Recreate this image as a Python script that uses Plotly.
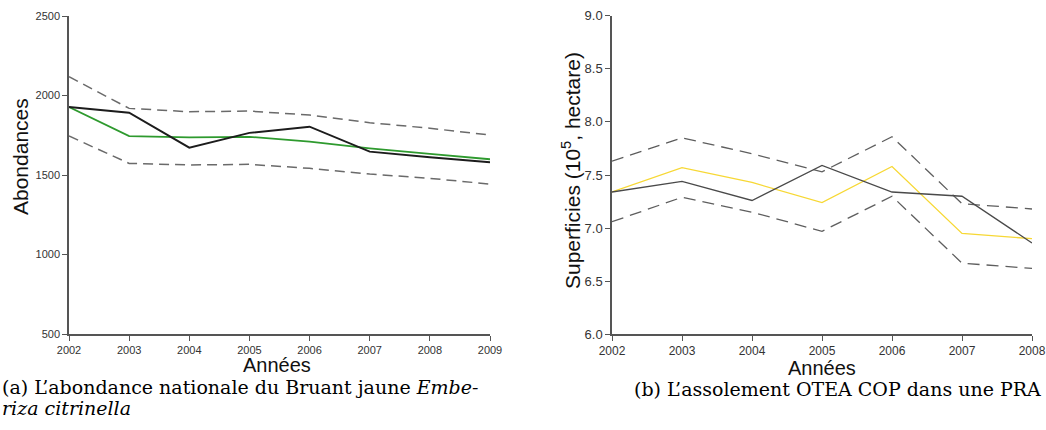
import plotly.graph_objects as go

# ---- data: (a) abondance nationale du Bruant jaune ----
years_a = [2002, 2003, 2004, 2005, 2006, 2007, 2008, 2009]
abond_obs = [1928, 1892, 1672, 1765, 1804, 1647, 1611, 1580]
abond_fit = [1928, 1745, 1737, 1740, 1710, 1668, 1633, 1599]
abond_up = [2118, 1919, 1898, 1902, 1877, 1829, 1794, 1751]
abond_lo = [1745, 1573, 1563, 1567, 1542, 1506, 1479, 1443]
yticks_a = [500, 1000, 1500, 2000, 2500]

# ---- data: (b) assolement OTEA COP dans une PRA ----
years_b = [2002, 2003, 2004, 2005, 2006, 2007, 2008]
surf_obs = [7.34, 7.44, 7.26, 7.59, 7.34, 7.30, 6.86]
surf_fit = [7.34, 7.57, 7.43, 7.24, 7.58, 6.95, 6.90]
surf_up = [7.63, 7.85, 7.70, 7.53, 7.86, 7.23, 7.18]
surf_lo = [7.06, 7.29, 7.15, 6.97, 7.30, 6.67, 6.62]
yticks_b = [6.0, 6.5, 7.0, 7.5, 8.0, 8.5, 9.0]

W, H = 1046, 430
def px(v):
    return v / W
def py(v):
    return 1 - v / H

fig = go.Figure()

dash_a = "10px,6px"
fig.add_trace(go.Scatter(x=years_a, y=abond_up, mode="lines",
                         line=dict(color="#6a6a6a", width=1.5, dash=dash_a),
                         xaxis="x", yaxis="y", showlegend=False))
fig.add_trace(go.Scatter(x=years_a, y=abond_lo, mode="lines",
                         line=dict(color="#6a6a6a", width=1.5, dash=dash_a),
                         xaxis="x", yaxis="y", showlegend=False))
fig.add_trace(go.Scatter(x=years_a, y=abond_fit, mode="lines",
                         line=dict(color="#2e9a2e", width=1.8),
                         xaxis="x", yaxis="y", showlegend=False))
fig.add_trace(go.Scatter(x=years_a, y=abond_obs, mode="lines",
                         line=dict(color="#1c1c1c", width=2),
                         xaxis="x", yaxis="y", showlegend=False))

dash_b = "12px,7px"
fig.add_trace(go.Scatter(x=years_b, y=surf_up, mode="lines",
                         line=dict(color="#5e5e5e", width=1.3, dash=dash_b),
                         xaxis="x2", yaxis="y2", showlegend=False))
fig.add_trace(go.Scatter(x=years_b, y=surf_lo, mode="lines",
                         line=dict(color="#5e5e5e", width=1.3, dash=dash_b),
                         xaxis="x2", yaxis="y2", showlegend=False))
fig.add_trace(go.Scatter(x=years_b, y=surf_fit, mode="lines",
                         line=dict(color="#f7d835", width=1.3),
                         xaxis="x2", yaxis="y2", showlegend=False))
fig.add_trace(go.Scatter(x=years_b, y=surf_obs, mode="lines",
                         line=dict(color="#4a4a4a", width=1.3),
                         xaxis="x2", yaxis="y2", showlegend=False))

axis_common = dict(showline=True, linecolor="#555555", linewidth=1.5,
                   ticks="outside", ticklen=5, tickcolor="#555555", tickwidth=1,
                   showgrid=False, zeroline=False, mirror=False, automargin=False,
                   ticklabeloverflow="allow")

fig.update_layout(
    width=W, height=H,
    margin=dict(l=0, r=0, t=0, b=0, autoexpand=False),
    paper_bgcolor="white", plot_bgcolor="white",
    showlegend=False,
    xaxis=dict(domain=[px(69), px(490)], range=[2002, 2009],
               tickvals=years_a, anchor="y",
               tickfont=dict(family="Liberation Sans", size=11, color="#333333"),
               **axis_common),
    yaxis=dict(domain=[py(334), py(16)], range=[500, 2500],
               tickvals=yticks_a, anchor="x",
               tickfont=dict(family="Liberation Sans", size=11, color="#333333"),
               **axis_common),
    xaxis2=dict(domain=[px(612), px(1032)], range=[2002, 2008],
                tickvals=years_b, anchor="y2",
                tickfont=dict(family="Liberation Sans", size=12, color="#333333"),
                **axis_common),
    yaxis2=dict(domain=[py(334.3), py(15.7)], range=[6.0, 9.0],
                tickvals=yticks_b, tickformat=".1f", anchor="x2",
                tickfont=dict(family="Liberation Sans", size=13, color="#333333"),
                **axis_common),
)

title_font = dict(family="Liberation Sans", size=20, color="#111111")
annots = [
    dict(text="Années", x=px(277), y=py(365), font=title_font),
    dict(text="Abondances", x=px(20), y=py(157), textangle=-90,
         font=dict(family="Liberation Sans", size=21, color="#111111")),
    dict(text="Années", x=px(822), y=py(368), font=title_font),
    dict(text="Superficies (10<sup>5</sup>, hectare)", x=px(571), y=py(171),
         textangle=-90, font=dict(family="Liberation Sans", size=21, color="#111111")),
]
for a in annots:
    fig.add_annotation(xref="paper", yref="paper", showarrow=False,
                       xanchor="center", yanchor="middle", **a)

cap_font = dict(family="DejaVu Serif", size=19, color="#000000")
fig.add_annotation(xref="paper", yref="paper", showarrow=False,
                   x=0, y=py(387), xanchor="left", yanchor="middle",
                   text="(a) L’abondance nationale du Bruant jaune <i>Embe-</i>",
                   font=cap_font)
fig.add_annotation(xref="paper", yref="paper", showarrow=False,
                   x=0, y=py(408), xanchor="left", yanchor="middle",
                   text="<i>riza citrinella</i>", font=cap_font)
fig.add_annotation(xref="paper", yref="paper", showarrow=False,
                   x=px(1043), y=py(389), xanchor="right", yanchor="middle",
                   text="(b) L’assolement OTEA COP dans une PRA", font=cap_font)

fig.write_html("out.html")
